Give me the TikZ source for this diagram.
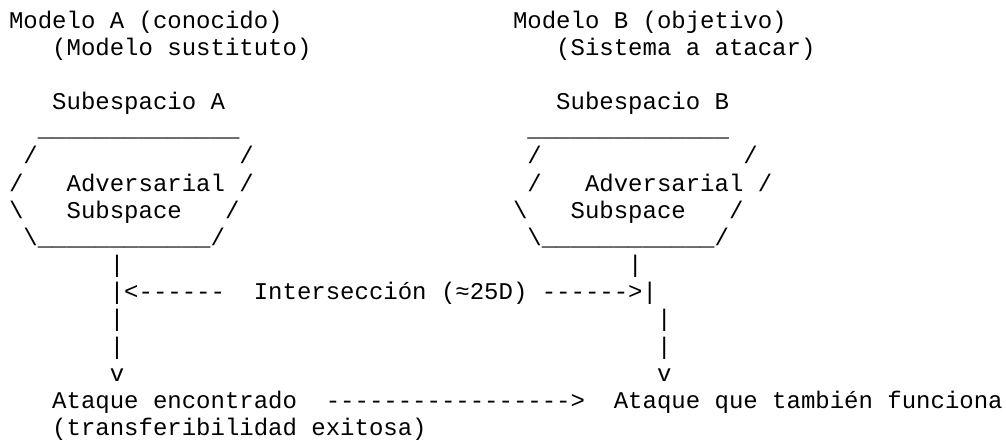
\documentclass[tikz,border=0pt]{standalone}
\usepackage{fontspec}
\setmonofont{Liberation Mono}
\tikzset{asc/.style={anchor=base west, inner sep=0pt, outer sep=0pt,
  font=\ttfamily\fontsize{18pt}{20pt}\selectfont, text=black}}
\newcommand\ascline[4]{\node[asc] (#1) at ({6.75pt+#2*10.8pt},{-21.2pt-#3*20.36pt}) {#4};}
\begin{document}
\begin{tikzpicture}
\useasboundingbox[fill=white] (0pt,0pt) rectangle (754.5pt,-330.75pt);
% row 1-2
\ascline{ma}{0}{0}{Modelo A (conocido)}
\ascline{mb}{35}{0}{Modelo B (objetivo)}
\ascline{msa}{3}{1}{(Modelo sustituto)}
\ascline{msb}{38}{1}{(Sistema a atacar)}
% row 4
\ascline{sa}{3}{3}{Subespacio A}
\ascline{sb}{38}{3}{Subespacio B}
% row 5
\ascline{ta}{2}{4}{\_\_\_\_\_\_\_\_\_\_\_\_\_\_}
\ascline{tb}{36}{4}{\_\_\_\_\_\_\_\_\_\_\_\_\_\_}
% row 6
\ascline{a6l}{1}{5}{/}
\ascline{a6r}{16}{5}{/}
\ascline{b6l}{36}{5}{/}
\ascline{b6r}{51}{5}{/}
% row 7
\ascline{a7l}{0}{6}{/}
\ascline{a7t}{4}{6}{Adversarial}
\ascline{a7r}{16}{6}{/}
\ascline{b7l}{36}{6}{/}
\ascline{b7t}{40}{6}{Adversarial}
\ascline{b7r}{52}{6}{/}
% row 8
\ascline{a8l}{0}{7}{\textbackslash}
\ascline{a8t}{4}{7}{Subspace}
\ascline{a8r}{15}{7}{/}
\ascline{b8l}{35}{7}{\textbackslash}
\ascline{b8t}{39}{7}{Subspace}
\ascline{b8r}{50}{7}{/}
% row 9
\ascline{a9}{1}{8}{\textbackslash\_\_\_\_\_\_\_\_\_\_\_\_/}
\ascline{b9}{36}{8}{\textbackslash\_\_\_\_\_\_\_\_\_\_\_\_/}
% row 10-14
\ascline{a10}{7}{9}{|}
\ascline{b10}{43}{9}{|}
\ascline{a11}{7}{10}{|<------}
\ascline{int}{17}{10}{Intersección (≈25D)}
\ascline{b11}{37}{10}{------>|}
\ascline{a12}{7}{11}{|}
\ascline{b12}{45}{11}{|}
\ascline{a13}{7}{12}{|}
\ascline{b13}{45}{12}{|}
\ascline{a14}{7}{13}{v}
\ascline{b14}{45}{13}{v}
% row 15-16
\ascline{atq}{3}{14}{Ataque encontrado}
\ascline{arr}{22}{14}{----------------->}
\ascline{atb}{42}{14}{Ataque que también funciona}
\ascline{trf}{3}{15}{(transferibilidad exitosa)}
\end{tikzpicture}
\end{document}
